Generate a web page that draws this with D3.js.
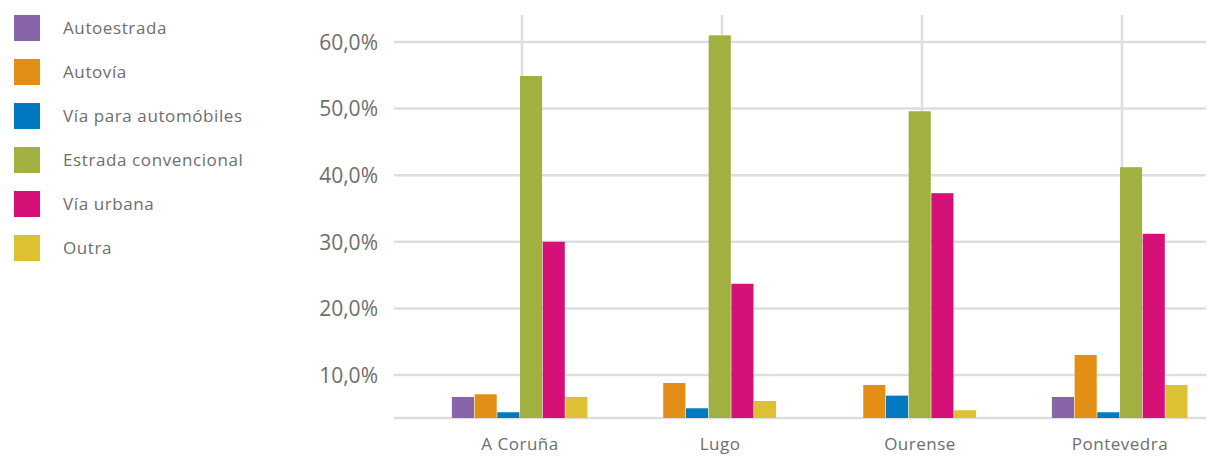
<!DOCTYPE html>
<html>
<head>
<meta charset="utf-8">
<script src="https://cdn.jsdelivr.net/npm/d3@7"></script>
<style>
  body { margin: 0; background: #fff; }
  text { font-family: "Open Sans", "Noto Sans", sans-serif; fill: #6e6e6e; }
</style>
</head>
<body>
<div id="chart"></div>
<script>
// provincias e tipos de vía
const provincias = ["A Coruña", "Lugo", "Ourense", "Pontevedra"];
const tipos = ["Autoestrada", "Autovía", "Vía para automóbiles", "Estrada convencional", "Vía urbana", "Outra"];
const cores = ["#8864a8", "#e38f16", "#0079c2", "#a1b040", "#d51178", "#dcc232"];

// porcentaxes por tipo (orde das provincias)
const autoestrada = [6.7, 0, 0, 6.7];
const autovia = [7.1, 8.8, 8.5, 13.0];
const viaAutomobiles = [4.4, 5.0, 6.9, 4.4];
const estradaConvencional = [54.9, 61.0, 49.6, 41.2];
const viaUrbana = [30.0, 23.7, 37.3, 31.2];
const outra = [6.7, 6.1, 4.7, 8.5];
const yTicks = [10, 20, 30, 40, 50, 60];

const series = [autoestrada, autovia, viaAutomobiles, estradaConvencional, viaUrbana, outra];

const width = 1221, height = 471;
const svg = d3.select("#chart").append("svg")
    .attr("width", width)
    .attr("height", height);

const x = d3.scaleBand()
    .domain(provincias)
    .range([420, 1220])
    .padding(0);

const y = d3.scaleLinear()
    .domain([3.54, 60])
    .range([418, 42]);

const barW = 22.7;
const gridColor = "#dedede";

// liñas horizontais
svg.append("g")
    .selectAll("line")
    .data([y.domain()[0], ...yTicks])
    .join("line")
    .attr("x1", 394)
    .attr("x2", 1206)
    .attr("y1", d => y(d))
    .attr("y2", d => y(d))
    .attr("stroke", gridColor)
    .attr("stroke-width", 2.5);

// liñas verticais
svg.append("g")
    .selectAll("line")
    .data(provincias)
    .join("line")
    .attr("x1", d => x(d) + x.bandwidth() / 2 + 2)
    .attr("x2", d => x(d) + x.bandwidth() / 2 + 2)
    .attr("y1", 15)
    .attr("y2", y.range()[0])
    .attr("stroke", gridColor)
    .attr("stroke-width", 2.5);

// eixo Y
const yAxis = svg.append("g")
    .attr("transform", "translate(378,0)")
    .call(d3.axisLeft(y).tickValues(yTicks).tickSize(0).tickPadding(0)
        .tickFormat(d => d3.format(".1f")(d).replace(".", ",") + "%"));
yAxis.select(".domain").remove();
yAxis.selectAll("text")
    .style("font-size", "21px")
    .attr("dy", "0.35em");

// barras: só as non nulas, centradas en cada provincia
const grupos = provincias.map((p, i) => {
    const items = tipos.map((t, k) => ({ tipo: t, k, valor: series[k][i] }))
        .filter(d => d.valor > 0);
    const centro = x(p) + x.bandwidth() / 2;
    const inicio = centro - items.length * barW / 2;
    items.forEach((d, j) => { d.x = inicio + j * barW; });
    return items;
});

svg.append("g")
    .selectAll("rect")
    .data(grupos.flat())
    .join("rect")
    .attr("x", d => d.x)
    .attr("width", barW - 0.6)
    .attr("y", d => y(d.valor))
    .attr("height", d => y(y.domain()[0]) - y(d.valor))
    .attr("fill", d => cores[d.k]);

// eixo X
const xAxis = svg.append("g")
    .attr("transform", "translate(0,418)")
    .call(d3.axisBottom(x).tickSize(0).tickPadding(20));
xAxis.select(".domain").remove();
xAxis.selectAll("text")
    .style("font-size", "17px")
    .style("letter-spacing", "0.5px");

// lenda
const lenda = svg.append("g")
    .selectAll("g")
    .data(tipos)
    .join("g")
    .attr("transform", (d, i) => `translate(14,${15 + i * 44})`);

lenda.append("rect")
    .attr("width", 26)
    .attr("height", 26)
    .attr("fill", (d, i) => cores[i]);

lenda.append("text")
    .attr("x", 49)
    .attr("y", 13)
    .attr("dy", "0.35em")
    .style("font-size", "17px")
    .style("letter-spacing", "0.6px")
    .text(d => d);
</script>
</body>
</html>
